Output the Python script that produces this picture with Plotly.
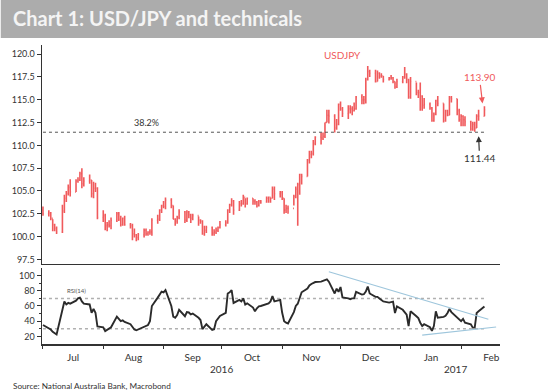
import pandas as pd
import plotly.graph_objects as go

# ---------------- data ----------------
dates = pd.bdate_range("2016-07-01", "2017-02-13")

close_jul = [102.5, 102.6, 102.0, 101.3, 100.9, 100.5, 102.8, 104.2, 104.7, 105.4, 104.9,
             106.1, 106.2, 106.9, 105.8, 106.1, 106.2, 104.7, 105.3, 105.3, 102.1]
high_jul = [103.3, 102.9, 102.7, 101.9, 101.4, 101.1, 103.5, 104.6, 105.0, 105.7, 106.3,
            106.3, 106.5, 107.1, 107.5, 106.5, 106.8, 106.2, 106.0, 105.9, 105.4]
low_jul = [102.3, 102.2, 101.8, 100.6, 100.6, 100.3, 100.4, 102.6, 103.8, 104.5, 104.4,
           104.9, 105.9, 106.1, 105.3, 105.5, 105.8, 104.3, 104.2, 104.9, 101.9]

close_aug = [102.3, 101.2, 101.3, 101.2, 101.8, 102.5, 101.9, 101.3, 102.0, 101.3, 101.2, 100.3,
             100.2, 99.9, 100.2, 100.7, 100.3, 100.5, 100.5, 101.8, 101.9, 102.9, 103.4]
high_aug = [102.9, 102.5, 101.6, 101.8, 102.1, 102.7, 102.7, 102.3, 102.1, 102.3, 101.5, 101.4,
            100.9, 100.3, 100.4, 100.9, 100.9, 100.6, 100.8, 102.0, 102.4, 103.0, 103.5]
low_aug = [101.6, 100.7, 100.6, 101.0, 100.8, 101.6, 101.7, 101.1, 101.2, 101.2, 100.9, 99.6,
           99.9, 99.5, 99.6, 99.9, 100.1, 100.1, 100.2, 100.1, 101.4, 101.7, 102.6]

close_sep = [103.3, 104.0, 103.4, 101.9, 101.7, 102.1, 102.7, 101.8, 102.7, 102.4, 102.0,
             102.3, 101.8, 101.7, 100.3, 100.7, 101.0, 100.4, 100.5, 100.7, 101.0, 101.3]
high_sep = [103.9, 104.3, 104.2, 103.4, 102.0, 102.3, 103.0, 102.8, 102.9, 102.8, 102.5,
            102.5, 102.2, 101.9, 101.8, 101.2, 101.2, 101.1, 100.8, 101.0, 101.1, 101.7]
low_sep = [103.1, 103.0, 103.1, 101.9, 101.2, 101.4, 101.9, 101.5, 101.6, 102.0, 101.5,
           101.8, 101.2, 101.4, 100.2, 100.1, 100.4, 100.1, 100.1, 100.3, 100.5, 100.9]

close_oct = [101.5, 102.9, 103.5, 103.9, 102.9, 103.6, 103.6, 104.3, 103.6, 104.2, 103.9,
             103.8, 103.4, 103.9, 103.8, 104.2, 104.3, 104.2, 105.2, 104.7, 104.8]
high_oct = [101.8, 103.0, 103.6, 104.2, 104.0, 103.9, 104.0, 104.6, 104.2, 104.3, 104.2,
            104.1, 103.9, 104.0, 104.0, 104.4, 104.4, 104.3, 105.5, 105.5, 105.0]
low_oct = [101.1, 101.4, 102.6, 103.3, 102.4, 102.8, 103.3, 103.5, 103.2, 103.5, 103.5,
           103.5, 103.2, 103.3, 103.6, 103.7, 103.7, 103.7, 104.2, 104.0, 104.3]

close_nov = [104.2, 102.9, 103.1, 103.1, 104.4, 105.2, 105.7, 106.8, 106.6, 108.4, 109.0,
             109.1, 110.2, 110.9, 110.8, 111.0, 112.5, 113.3, 113.2, 111.9, 112.3, 114.5]
high_nov = [105.0, 104.2, 103.5, 103.4, 104.6, 105.5, 105.9, 106.9, 106.9, 108.5, 109.4,
            109.4, 110.6, 111.0, 111.4, 111.4, 112.5, 113.9, 113.9, 113.4, 112.9, 114.6]
low_nov = [104.0, 102.5, 102.6, 102.5, 103.4, 104.2, 101.2, 104.6, 105.7, 106.6, 108.0,
           108.6, 108.9, 110.0, 110.1, 110.6, 110.8, 112.5, 112.4, 111.4, 111.7, 112.2]

close_dec = [114.0, 113.5, 114.0, 114.0, 113.8, 114.0, 115.3, 115.0, 115.0, 117.2, 118.1,
             117.9, 117.0, 117.9, 117.6, 117.6, 117.2, 117.4, 117.4, 117.0, 116.4, 117.0]
high_dec = [114.8, 114.2, 114.4, 114.4, 114.3, 114.7, 115.4, 115.6, 115.4, 117.4, 118.7,
            118.3, 118.3, 118.2, 118.0, 117.9, 117.6, 117.5, 117.7, 117.5, 117.0, 117.3]
low_dec = [113.8, 113.1, 112.9, 113.5, 113.3, 113.7, 113.9, 114.5, 114.5, 114.6, 117.1,
           117.5, 116.9, 117.0, 117.3, 117.4, 116.9, 117.1, 117.2, 116.8, 116.2, 116.3]

close_jan = [117.5, 117.8, 117.2, 115.3, 117.0, 115.8, 115.8, 115.4, 114.4, 114.5, 114.1,
             112.7, 113.4, 114.9, 114.6, 112.7, 113.8, 113.3, 115.2, 115.1, 113.8, 112.8]
high_jan = [117.6, 118.6, 117.9, 117.3, 117.5, 116.9, 116.1, 116.9, 115.5, 115.2, 114.7,
            114.2, 113.6, 115.0, 115.4, 114.6, 113.9, 113.9, 115.4, 115.4, 115.1, 114.0]
low_jan = [116.8, 117.3, 116.8, 115.1, 115.1, 115.5, 115.2, 113.8, 113.8, 114.0, 113.9,
           112.6, 112.6, 113.3, 114.3, 112.5, 112.6, 113.2, 113.3, 114.7, 113.3, 112.6]

close_feb = [113.2, 112.8, 112.6, 111.8, 112.3, 111.9, 113.2, 113.2, 113.9]
high_feb = [113.4, 113.3, 113.2, 112.7, 112.6, 112.6, 113.4, 113.9, 114.3]
low_feb = [112.1, 112.1, 112.1, 111.6, 111.6, 111.5, 111.9, 112.7, 113.2]

first_open = 102.9

rsi_jul = [35, 31, 29, 26, 24, 22.5, 55, 66, 62, 64, 63, 67, 70, 71, 66, 63, 62, 51, 56, 51, 33]
rsi_aug = [32, 27, 29, 31, 32, 46, 43, 40, 41, 39, 36, 32, 29, 28, 29, 33, 34, 35, 40, 60, 71, 76, 79]
rsi_sep = [78, 81, 60, 46, 44.5, 48, 55, 46.5, 52, 51.5, 49, 50, 44.5, 41.5, 29.5, 33.5, 36,
           28.5, 29.5, 40, 43, 47]
rsi_oct = [51, 76.5, 78, 81, 64, 68, 66, 70, 62, 63.5, 58, 53, 57, 59.5, 60, 62, 63.5, 66, 73, 66, 68]
rsi_nov = [51, 40, 38, 37, 52, 60, 63, 72, 78, 83, 87, 89, 90, 91.5, 92, 92.7, 94, 95, 92,
           76.5, 82.8, 78.6]
rsi_dec = [85, 71.3, 70, 69, 70, 70, 78.6, 75, 75.5, 79, 85.5, 76.5, 72, 72, 70, 68, 66,
           64.5, 65, 65.8, 50.8, 59.3]
rsi_jan = [55, 52, 48.6, 33.6, 53, 46.5, 44, 38, 33.6, 36, 32, 27.2, 33.6, 53, 44.5, 45.7,
           47, 50.8, 56, 52, 44.5, 42]
rsi_feb = [40, 43, 38, 36, 31.5, 31.5, 50.8, 53, 59.3]

retracement_level = 111.44          # 38.2% line
latest_value = 113.90
rsi_levels = [30, 70]
trend_res_dates = ["2016-11-25", "2017-02-15"]
trend_res_values = [105, 42.5]
trend_sup_dates = ["2017-01-12", "2017-02-19"]
trend_sup_values = [21.8, 32.4]

# ---------------- assemble ----------------
close = close_jul + close_aug + close_sep + close_oct + close_nov + close_dec + close_jan + close_feb
high = high_jul + high_aug + high_sep + high_oct + high_nov + high_dec + high_jan + high_feb
low = low_jul + low_aug + low_sep + low_oct + low_nov + low_dec + low_jan + low_feb
opens = [first_open] + close[:-1]
rsi = rsi_jul + rsi_aug + rsi_sep + rsi_oct + rsi_nov + rsi_dec + rsi_jan + rsi_feb

RED = "#f05a5c"
DARK = "#333333"
FONT = "Lato"
xr = ["2016-06-30 12:00", "2017-02-21"]
d0, d1 = str(dates[0].date()), str(dates[-1].date())

fig = go.Figure()
fig.add_trace(go.Ohlc(
    x=dates, open=opens, high=high, low=low, close=close,
    increasing=dict(line=dict(color=RED, width=1.6)),
    decreasing=dict(line=dict(color=RED, width=1.6)),
    tickwidth=0.45, xaxis="x", yaxis="y", showlegend=False, hoverinfo="skip"))
fig.add_trace(go.Scatter(
    x=dates, y=rsi, mode="lines", line=dict(color="#2b2b2b", width=1.9),
    xaxis="x2", yaxis="y2", showlegend=False, hoverinfo="skip"))

shapes = [
    # title bar
    dict(type="rect", xref="paper", yref="paper", x0=-0.09, x1=1.11, y0=1.0234, y1=1.16,
         fillcolor="#acacac", line=dict(width=0), layer="below"),
    dict(type="line", xref="x", yref="y", x0=d0, x1=d1, y0=retracement_level, y1=retracement_level,
         line=dict(color="#555555", width=1, dash="dot")),
]
for lv in rsi_levels:
    shapes.append(dict(type="line", xref="x2", yref="y2", x0=d0, x1=d1, y0=lv, y1=lv,
                       line=dict(color="#b0b0b0", width=1.5, dash="dot"), layer="below"))
shapes.append(dict(type="line", xref="x2", yref="y2", x0=trend_res_dates[0], x1=trend_res_dates[1],
                   y0=trend_res_values[0], y1=trend_res_values[1], line=dict(color="#9ec6dc", width=1.2)))
shapes.append(dict(type="line", xref="x2", yref="y2", x0=trend_sup_dates[0], x1=trend_sup_dates[1],
                   y0=trend_sup_values[0], y1=trend_sup_values[1], line=dict(color="#9ec6dc", width=1.2)))

annotations = [
    dict(text="Chart 1: USD/JPY and technicals", xref="paper", yref="paper", x=-0.067, y=1.09,
         xanchor="left", yanchor="middle", showarrow=False,
         font=dict(family=FONT, size=20, color="#f4f4f4", weight="bold")),
    dict(text="38.2%", xref="x", yref="y", x="2016-08-23", y=retracement_level, yshift=2,
         xanchor="center", yanchor="bottom", showarrow=False, font=dict(size=9, color=DARK)),
    dict(text="USDJPY", xref="x", yref="y", x="2016-12-02", y=119.9, xanchor="center",
         yanchor="middle", showarrow=False, font=dict(size=10, color=RED)),
    dict(text="%.2f" % latest_value, xref="x", yref="y", x="2017-02-12", y=114.6,
         ax=-3, ay=-26, showarrow=True, arrowhead=2, arrowsize=1, arrowwidth=1.2,
         arrowcolor=RED, font=dict(size=10, color=RED)),
    dict(text="%.2f" % retracement_level, xref="x", yref="y", x="2017-02-10", y=111.0,
         ax=1, ay=22, showarrow=True, arrowhead=2, arrowsize=1, arrowwidth=1.2,
         arrowcolor=DARK, font=dict(size=10, color=DARK)),
    dict(text="RSI(14)", xref="x2", yref="y2", x="2016-07-18", y=80, xanchor="center",
         yanchor="middle", showarrow=False, font=dict(size=6, color="#555555")),
    dict(text="2016", xref="x2", yref="paper", x="2016-10-01", y=-0.084, xanchor="center",
         yanchor="middle", showarrow=False, font=dict(size=10, color=DARK)),
    dict(text="2017", xref="x2", yref="paper", x="2017-01-29", y=-0.084, xanchor="center",
         yanchor="middle", showarrow=False, font=dict(size=10, color=DARK)),
    dict(text="Source: National Australia Bank, Macrobond", xref="paper", yref="paper",
         x=-0.067, y=-0.1405, xanchor="left", yanchor="middle", showarrow=False,
         font=dict(size=8.2, color=DARK)),
]

fig.update_layout(
    width=548, height=392,
    margin=dict(l=38, r=48, t=45, b=48),
    paper_bgcolor="white", plot_bgcolor="white",
    font=dict(family=FONT, size=9, color=DARK),
    showlegend=False,
    shapes=shapes, annotations=annotations,
    xaxis=dict(domain=[0, 1], anchor="y", range=xr, type="date", showline=True, linecolor=DARK,
               linewidth=1.5, ticks="", showticklabels=False, showgrid=False, zeroline=False,
               rangeslider=dict(visible=False)),
    yaxis=dict(domain=[0.2676, 1], anchor="x", range=[97, 121],
               tickvals=[97.5, 100, 102.5, 105, 107.5, 110, 112.5, 115, 117.5, 120],
               tickformat=".1f", ticks="outside", ticklen=4, tickcolor=DARK, showline=True,
               linecolor=DARK, linewidth=1.5, showgrid=False, zeroline=False,
               tickfont=dict(size=9, color=DARK)),
    xaxis2=dict(domain=[0, 1], anchor="y2", matches="x", type="date", showline=True,
                linecolor=DARK, linewidth=1.5, ticks="outside", ticklen=3, tickcolor=DARK,
                dtick="M1", tick0="2016-07-01", tickformat="%b", ticklabelmode="period",
                showgrid=False, zeroline=False, tickfont=dict(size=10, color=DARK)),
    yaxis2=dict(domain=[0, 0.2542], anchor="x2", range=[10, 110],
                tickvals=[20, 40, 60, 80, 100], ticks="outside", ticklen=4, tickcolor=DARK,
                minor=dict(tickvals=[30, 50, 70, 90], ticks="outside", ticklen=2, tickcolor=DARK),
                showline=True, linecolor=DARK, linewidth=1.5, showgrid=False, zeroline=False,
                tickfont=dict(size=9, color=DARK)),
)

fig.write_html("out.html", config={"displayModeBar": False, "staticPlot": True},
               post_script="document.body.style.margin='0px';document.body.style.overflow='hidden';")
